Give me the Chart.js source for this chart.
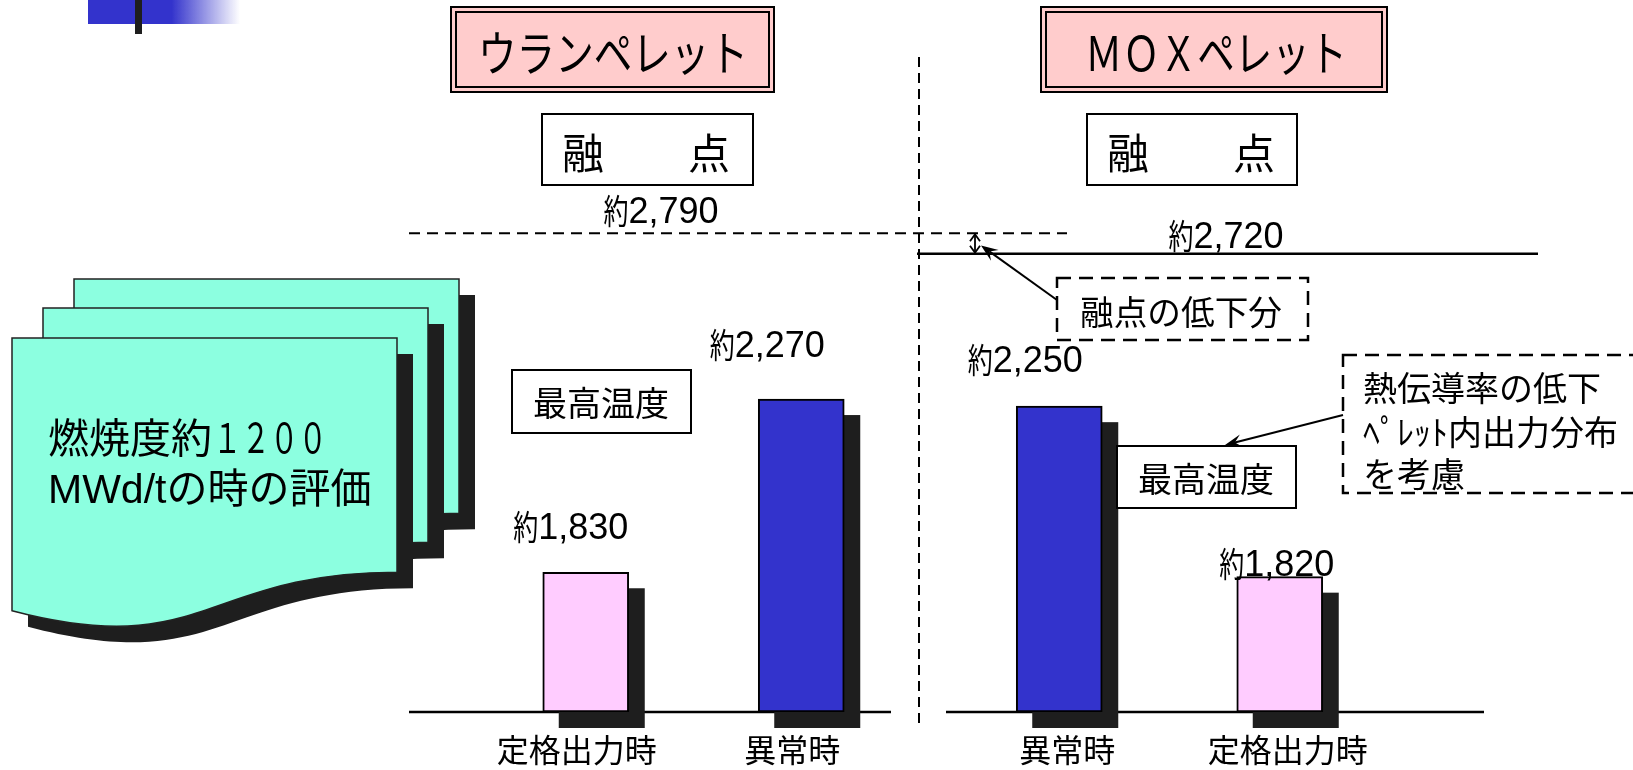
<!DOCTYPE html>
<html><head><meta charset="utf-8">
<script src="https://cdn.jsdelivr.net/npm/chart.js@4.4.1/dist/chart.umd.min.js"></script>
<style>
html,body{margin:0;padding:0;background:#fff;overflow:hidden}
#wrap{position:relative;width:1633px;height:770px;background:#fff}
canvas{position:absolute;left:0;top:0}
</style></head><body>
<div id="wrap"><canvas id="uo2" width="1633" height="770"></canvas><canvas id="mox" width="1633" height="770"></canvas></div>
<script>
// ---- data ----
const uraniumTitle = 'ウランペレット';
const moxTitle = 'ＭＯＸペレット';
const meltLabel = '融　　点';
const maxTempLabel = '最高温度';
const uraniumCategories = ['定格出力時', '異常時'];
const uraniumMaxTemp = [1830, 2270];
const moxCategories = ['異常時', '定格出力時'];
const moxMaxTemp = [2250, 1820];
const uraniumMeltingPoint = 2790;
const moxMeltingPoint = 2720;
const burnupLines = ['燃焼度約１２００', 'MWd/tの時の評価'];
const meltDropNote = '融点の低下分';
const noteLines = ['熱伝導率の低下', 'ﾍﾟﾚｯﾄ内出力分布', 'を考慮'];

// ---- styles ----
const CJK = '"Noto Sans CJK JP", sans-serif';
const MIX = '"Liberation Sans", "Noto Sans CJK JP", sans-serif';
const PINK = '#ffccff', BLUE = '#3333cc', SHADOW = '#1e1e1e';
const barColor = (cat) => cat === '異常時' ? BLUE : PINK;
const Y_MIN = 1538, Y_MAX = 3293;

function line(ctx, x1, y1, x2, y2) { ctx.beginPath(); ctx.moveTo(x1, y1); ctx.lineTo(x2, y2); ctx.stroke(); }
function textC(ctx, t, cx, cy, size, maxW, font) {
  ctx.font = size + 'px ' + (font || CJK);
  ctx.textAlign = 'center'; ctx.textBaseline = 'alphabetic'; ctx.fillStyle = '#000';
  if (maxW) ctx.fillText(t, cx, cy + 0.38 * size, maxW); else ctx.fillText(t, cx, cy + 0.38 * size);
}
function textL(ctx, t, x, cy, size, maxW, font) {
  ctx.font = size + 'px ' + (font || CJK);
  ctx.textAlign = 'left'; ctx.textBaseline = 'alphabetic'; ctx.fillStyle = '#000';
  if (maxW) ctx.fillText(t, x, cy + 0.38 * size, maxW); else ctx.fillText(t, x, cy + 0.38 * size);
}
function approx(ctx, value, cx, baseline) {
  const num = value.toLocaleString('en-US');
  ctx.font = '36px "Liberation Sans"';
  const nw = ctx.measureText(num).width, kw = 25;
  const left = cx - (kw + nw) / 2;
  ctx.fillStyle = '#000'; ctx.textAlign = 'left'; ctx.textBaseline = 'alphabetic';
  ctx.font = '34px ' + CJK; ctx.fillText('約', left, baseline + 1, kw);
  ctx.font = '36px "Liberation Sans"'; ctx.fillText(num, left + kw, baseline);
}
function box(ctx, x, y, w, h, fill) {
  ctx.fillStyle = fill || '#fff'; ctx.fillRect(x, y, w, h);
  ctx.strokeStyle = '#000'; ctx.lineWidth = 2; ctx.setLineDash([]);
  ctx.strokeRect(x + 1, y + 1, w - 2, h - 2);
}
function doubleBox(ctx, x, y, w, h) {
  ctx.fillStyle = '#ffcccc'; ctx.fillRect(x, y, w, h);
  ctx.strokeStyle = '#000'; ctx.lineWidth = 2; ctx.setLineDash([]);
  ctx.strokeRect(x + 1, y + 1, w - 2, h - 2);
  ctx.strokeRect(x + 6, y + 6, w - 12, h - 12);
}
function dashBox(ctx, x, y, w, h) {
  ctx.fillStyle = '#fff'; ctx.fillRect(x, y, w, h);
  ctx.strokeStyle = '#000'; ctx.lineWidth = 2.5; ctx.setLineDash([14, 8]);
  ctx.strokeRect(x, y, w, h); ctx.setLineDash([]);
}
function stealth(ctx, x1, y1, x2, y2) {
  const a = Math.atan2(y2 - y1, x2 - x1), c = Math.cos(a), s = Math.sin(a);
  const len = 17, wid = 13;
  const bx = x2 - len * c, by = y2 - len * s, nx = x2 - len * 0.6 * c, ny = y2 - len * 0.6 * s;
  ctx.strokeStyle = '#000'; ctx.lineWidth = 2; ctx.setLineDash([]);
  line(ctx, x1, y1, nx, ny);
  ctx.fillStyle = '#000'; ctx.beginPath(); ctx.moveTo(x2, y2);
  ctx.lineTo(bx - wid / 2 * s, by + wid / 2 * c); ctx.lineTo(nx, ny);
  ctx.lineTo(bx + wid / 2 * s, by - wid / 2 * c); ctx.closePath(); ctx.fill();
}
function docShape(ctx, x, y, w, h) {
  ctx.beginPath(); ctx.moveTo(x, y); ctx.lineTo(x + w, y); ctx.lineTo(x + w, y + 0.802 * h);
  ctx.bezierCurveTo(x + 0.5 * w, y + 0.802 * h, x + 0.5 * w, y + 1.1075 * h, x, y + 0.934 * h);
  ctx.closePath();
}
function shadows(chart) {
  const ctx = chart.ctx, meta = chart.getDatasetMeta(0);
  ctx.save(); ctx.fillStyle = SHADOW;
  meta.data.forEach(b => ctx.fillRect(b.x - b.width / 2 + 16, b.y + 16, b.width, b.base - b.y));
  ctx.restore();
}
function valueLabels(chart, offsets) {
  const ctx = chart.ctx, meta = chart.getDatasetMeta(0), data = chart.data.datasets[0].data;
  ctx.save();
  meta.data.forEach((b, i) => approx(ctx, data[i], b.x + offsets[i][0], b.y + offsets[i][1]));
  ctx.restore();
}

const uo2Deco = {
  id: 'uo2Deco',
  beforeDraw(chart) {
    const ctx = chart.ctx, ys = chart.scales.y, bottom = chart.chartArea.bottom;
    ctx.save();
    // top-left accent
    const g = ctx.createLinearGradient(88, 0, 240, 0);
    g.addColorStop(0, BLUE); g.addColorStop(0.55, BLUE); g.addColorStop(1, 'rgba(51,51,204,0)');
    ctx.fillStyle = g; ctx.fillRect(88, 0, 152, 24);
    ctx.fillStyle = SHADOW; ctx.fillRect(135, 0, 7, 34);
    // document stack
    [[74, 279], [43, 308], [12, 338]].forEach(([x, y]) => {
      docShape(ctx, x + 16, y + 16, 385, 292); ctx.fillStyle = SHADOW; ctx.fill();
      docShape(ctx, x, y, 385, 292); ctx.fillStyle = '#8cffe0'; ctx.fill();
      ctx.strokeStyle = '#222'; ctx.lineWidth = 1.5; ctx.stroke();
    });
    const m = burnupLines[0].match(/^(.*?)([０-９]+)$/);
    ctx.fillStyle = '#000'; ctx.textAlign = 'left'; ctx.textBaseline = 'alphabetic';
    ctx.font = '41px ' + CJK; ctx.fillText(m[1], 48, 453);
    ctx.fillText(m[2], 213, 453, 114);
    ctx.font = '41px ' + MIX; ctx.fillText(burnupLines[1], 48, 503, 334);
    // title
    doubleBox(ctx, 450, 6, 325, 87);
    textC(ctx, uraniumTitle, 613, 53, 48, 270);
    // melting box
    box(ctx, 541, 113, 213, 73);
    textC(ctx, meltLabel, 646, 153, 42);
    // melting line
    const ym = ys.getPixelForValue(uraniumMeltingPoint);
    ctx.strokeStyle = '#000'; ctx.lineWidth = 2; ctx.setLineDash([11, 7]);
    line(ctx, 409, ym, 1067, ym);
    // separator
    ctx.setLineDash([10, 6]); line(ctx, 919, 57, 919, 729); ctx.setLineDash([]);
    approx(ctx, uraniumMeltingPoint, 661, ym - 10);
    // baseline
    ctx.lineWidth = 2.5; line(ctx, 409, bottom, 891, bottom);
    // max temp box
    box(ctx, 511, 369, 181, 65);
    textC(ctx, maxTempLabel, 601, 403, 34);
    ctx.restore();
  },
  beforeDatasetsDraw(chart) { shadows(chart); },
  afterDatasetsDraw(chart) { valueLabels(chart, [[-15, -33], [-34, -42]]); }
};

const moxDeco = {
  id: 'moxDeco',
  beforeDraw(chart) {
    const ctx = chart.ctx, ys = chart.scales.y, bottom = chart.chartArea.bottom;
    ctx.save();
    doubleBox(ctx, 1040, 6, 348, 87);
    textC(ctx, moxTitle, 1216, 53, 48, 262);
    box(ctx, 1086, 113, 212, 73);
    textC(ctx, meltLabel, 1191, 153, 42);
    const yu = ys.getPixelForValue(uraniumMeltingPoint);
    const ym = ys.getPixelForValue(moxMeltingPoint);
    ctx.strokeStyle = '#000'; ctx.lineWidth = 2.5; ctx.setLineDash([]);
    line(ctx, 917, ym, 1538, ym);
    approx(ctx, moxMeltingPoint, 1226, ym - 6);
    // double arrow between the two melting points
    ctx.lineWidth = 1.8; line(ctx, 975, yu + 1, 975, ym - 1);
    ctx.beginPath();
    ctx.moveTo(970, yu + 8); ctx.lineTo(975, yu + 1); ctx.lineTo(980, yu + 8);
    ctx.moveTo(970, ym - 8); ctx.lineTo(975, ym - 1); ctx.lineTo(980, ym - 8);
    ctx.stroke();
    // note boxes
    dashBox(ctx, 1057, 278, 251, 62);
    textC(ctx, meltDropNote, 1181, 312, 34, 202);
    stealth(ctx, 1057, 300, 981, (yu + ym) / 2 + 2);
    dashBox(ctx, 1343, 355, 330, 138);
    [388, 432, 474].forEach((cy, i) => textL(ctx, noteLines[i], 1363, cy, 34));
    // baseline
    ctx.strokeStyle = '#000'; ctx.lineWidth = 2.5; line(ctx, 946, bottom, 1484, bottom);
    ctx.restore();
  },
  beforeDatasetsDraw(chart) { shadows(chart); },
  afterDatasetsDraw(chart) {
    const ctx = chart.ctx;
    ctx.save();
    box(ctx, 1116, 445, 181, 64);
    textC(ctx, maxTempLabel, 1206, 479, 34);
    stealth(ctx, 1343, 415, 1225, 445);
    ctx.restore();
    valueLabels(chart, [[-34, -34], [-3, -1]]);
  }
};

function makeChart(id, cats, vals, padL, padR, labelOffset, plugin) {
  return new Chart(document.getElementById(id), {
    type: 'bar',
    data: { labels: cats, datasets: [{
      data: vals,
      backgroundColor: cats.map(barColor),
      borderColor: '#000', borderWidth: 2, borderSkipped: false,
      barThickness: 86
    }]},
    options: {
      responsive: false, animation: false, events: [],
      layout: { padding: { left: padL, right: padR, top: 100, bottom: 0 } },
      plugins: { legend: { display: false }, tooltip: { enabled: false }, title: { display: false } },
      scales: {
        y: { type: 'logarithmic', min: Y_MIN, max: Y_MAX, display: false },
        x: {
          grid: { display: false, drawTicks: false }, border: { display: false },
          afterFit: (s) => { s.height = 58; },
          ticks: { color: '#000', padding: 19, labelOffset: labelOffset, maxRotation: 0,
                   font: { family: '"Noto Sans CJK JP", sans-serif', size: 32 } }
        }
      }
    },
    plugins: [plugin]
  });
}
makeChart('uo2', uraniumCategories, uraniumMaxTemp, 478, 724, -9, uo2Deco);
makeChart('mox', moxCategories, moxMaxTemp, 949, 243, 8, moxDeco);
</script></body></html>
